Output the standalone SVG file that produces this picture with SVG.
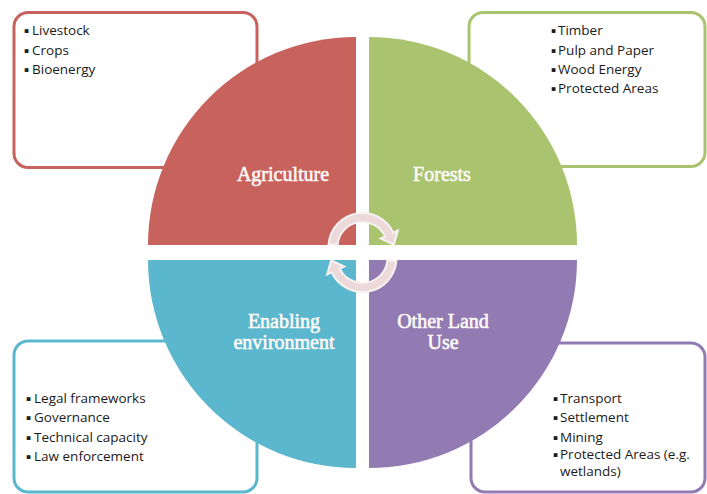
<svg xmlns="http://www.w3.org/2000/svg" width="707" height="494" viewBox="0 0 707 494">
<style>
.box{fill:#ffffff;stroke-width:3}
.item{font-family:"Open Sans","Liberation Sans",sans-serif;font-size:13.5px;fill:#1b1b1b}
.bul{font-family:"DejaVu Sans",sans-serif;font-size:7.5px}
.lab{font-family:"Liberation Serif","DejaVu Serif",serif;font-size:20px;fill:#fffaf7;stroke:#fffaf7;stroke-width:0.55;text-anchor:middle}
.arrow{fill:#ecd9d9;stroke:#f7f1f1;stroke-width:2}
</style>
<defs>
<path id="cyc" d="M328.63,244.04 A34,34 0 0 1 393.31,232.63 L397.85,230.52 L393.89,244.5 L380.63,238.55 L385.16,236.43 A25,25 0 0 0 337.6,244.82 Z"/>
</defs>
<rect width="707" height="494" fill="#ffffff"/>
<g id="agri-box">
<rect class="box" x="14" y="12.5" width="243" height="155" rx="14" stroke="#c8625d"/>
<text class="item"><tspan class="bul" x="24" y="33">▪</tspan><tspan x="32" y="35">Livestock</tspan></text>
<text class="item"><tspan class="bul" x="24" y="52.5">▪</tspan><tspan x="32" y="54.5">Crops</tspan></text>
<text class="item"><tspan class="bul" x="24" y="72">▪</tspan><tspan x="32" y="74">Bioenergy</tspan></text>
</g>
<g id="forest-box">
<rect class="box" x="469" y="12.5" width="236" height="154" rx="14" stroke="#a9c36e"/>
<text class="item"><tspan class="bul" x="551" y="33">▪</tspan><tspan x="558" y="35">Timber</tspan></text>
<text class="item"><tspan class="bul" x="551" y="52.5">▪</tspan><tspan x="558" y="54.5">Pulp and Paper</tspan></text>
<text class="item"><tspan class="bul" x="551" y="72">▪</tspan><tspan x="558" y="74">Wood Energy</tspan></text>
<text class="item"><tspan class="bul" x="551" y="91">▪</tspan><tspan x="558" y="93">Protected Areas</tspan></text>
</g>
<g id="enabling-box">
<rect class="box" x="14" y="341" width="243" height="151" rx="14" stroke="#5bb7cd"/>
<text class="item"><tspan class="bul" x="26" y="401">▪</tspan><tspan x="34" y="403">Legal frameworks</tspan></text>
<text class="item"><tspan class="bul" x="26" y="420">▪</tspan><tspan x="34" y="422">Governance</tspan></text>
<text class="item"><tspan class="bul" x="26" y="439.5">▪</tspan><tspan x="34" y="441.5">Technical capacity</tspan></text>
<text class="item"><tspan class="bul" x="26" y="459">▪</tspan><tspan x="34" y="461">Law enforcement</tspan></text>
</g>
<g id="other-box">
<rect class="box" x="471" y="343" width="234" height="149" rx="14" stroke="#927bb3"/>
<text class="item"><tspan class="bul" x="553" y="401">▪</tspan><tspan x="560" y="403">Transport</tspan></text>
<text class="item"><tspan class="bul" x="553" y="420">▪</tspan><tspan x="560" y="422">Settlement</tspan></text>
<text class="item"><tspan class="bul" x="553" y="439.5">▪</tspan><tspan x="560" y="441.5">Mining</tspan></text>
<text class="item"><tspan class="bul" x="553" y="457">▪</tspan><tspan x="560" y="459">Protected Areas (e.g.</tspan><tspan x="560" y="476">wetlands)</tspan></text>
</g>
<g id="agriculture">
<path d="M356,245 L148,245 A208,208 0 0 1 356,37 Z" fill="#c8625d"/>
<text class="lab" x="283" y="181">Agriculture</text>
</g>
<g id="forests">
<path d="M369,245 L369,37 A208,208 0 0 1 577,245 Z" fill="#a9c36e"/>
<text class="lab" x="442" y="181">Forests</text>
</g>
<g id="enabling">
<path d="M356,260 L356,468 A208,208 0 0 1 148,260 Z" fill="#5bb7cd"/>
<text class="lab" x="284" y="328">Enabling</text>
<text class="lab" x="284" y="349">environment</text>
</g>
<g id="other-land-use">
<path d="M369,260 L577,260 A208,208 0 0 1 369,468 Z" fill="#927bb3"/>
<text class="lab" x="443" y="328">Other Land</text>
<text class="lab" x="443" y="349">Use</text>
</g>
<g id="connectors">
<use href="#cyc" class="arrow"/>
<use href="#cyc" class="arrow" transform="rotate(180 362.5 252.5)"/>
</g>
</svg>
